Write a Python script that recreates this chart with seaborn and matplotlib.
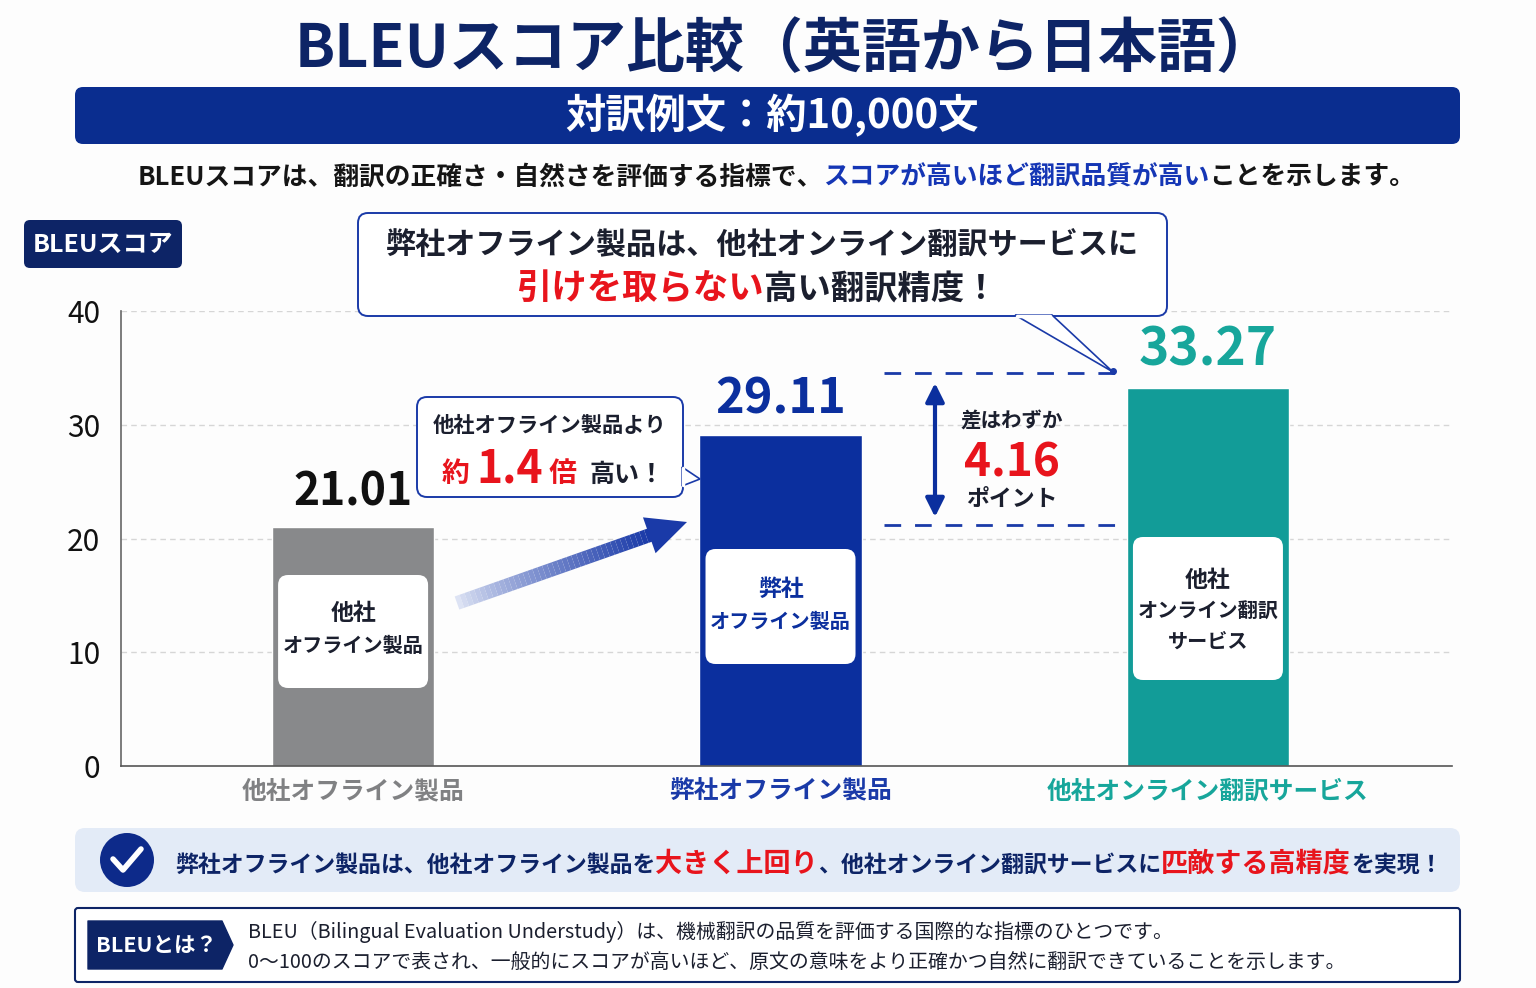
import numpy as np
import matplotlib
matplotlib.use("Agg")
import matplotlib.pyplot as plt
from matplotlib.patches import FancyBboxPatch, Circle, Polygon
from matplotlib.collections import LineCollection
import seaborn as sns

# ==========================================================
# DATA
# ==========================================================
categories = ["他社オフライン製品", "弊社オフライン製品", "他社オンライン翻訳サービス"]
scores = [21.01, 29.11, 33.27]
bar_colors = ["#88898b", "#0b2f9e", "#129c98"]
tick_colors = ["#808183", "#1a3aa8", "#17a69b"]
value_colors = ["#111111", "#0b2f9e", "#17a69b"]
inner_labels = [["他社", "オフライン製品"],
                ["弊社", "オフライン製品"],
                ["他社", "オンライン翻訳", "サービス"]]
yticks = [0, 10, 20, 30, 40]

W, H = 1536, 988
NAVY = "#0d2466"
BLUE = "#1a3aa8"
RED = "#e8141c"
DARK = "#1b1f2e"

# ==========================================================
# FIGURE
# ==========================================================
sns.set_style("white")
plt.rcParams['font.family'] = ['Noto Sans CJK JP', 'DejaVu Sans']

fig = plt.figure(figsize=(W / 100, H / 100), dpi=100)
fig.patch.set_facecolor("#fdfdfd")

ax = fig.add_axes([121 / W, 1 - 766 / H, (1452 - 121) / W, (766 - 311) / H])
ax.set_facecolor("none")

sns.barplot(x=categories, y=scores, hue=categories, palette=bar_colors,
            width=0.38, saturation=1, legend=False, ax=ax, zorder=2)

ax.set_xlim(-0.543, 2.571)
ax.set_ylim(0, 40)
ax.set_yticks(yticks)
ax.set_yticklabels([str(t) for t in yticks], fontsize=21.5, color="#111111")
ax.set_xlabel("")
ax.set_ylabel("")
ax.tick_params(axis="both", length=0)
ax.tick_params(axis="y", pad=15)
ax.tick_params(axis="x", pad=10)
for lab, c in zip(ax.get_xticklabels(), tick_colors):
    lab.set_color(c)
    lab.set_fontsize(17.8)
    lab.set_fontweight("bold")

for t in yticks[1:]:
    ax.axhline(t, color="#d6d6d6", lw=1, ls=(0, (4, 3)), zorder=0)

sns.despine(ax=ax)
ax.spines["left"].set_color("#666666")
ax.spines["bottom"].set_color("#555555")
ax.spines["left"].set_linewidth(1.2)
ax.spines["bottom"].set_linewidth(1.2)

# value labels above bars
val_sizes = [32, 35, 37]
for i, v in enumerate(scores):
    ax.annotate(f"{v:.2f}", (i, v), xytext=(0, 8), textcoords="offset points",
                ha="center", va="bottom", fontsize=val_sizes[i],
                fontweight="bold", color=value_colors[i], zorder=5)

# ==========================================================
# OVERLAY (pixel coordinates, y downwards)
# ==========================================================
ov = fig.add_axes([0, 0, 1, 1], zorder=5)
ov.set_xlim(0, W)
ov.set_ylim(H, 0)
ov.axis("off")
ov.patch.set_visible(False)

renderer = fig.canvas.get_renderer()


def rbox(x0, y0, x1, y1, r, fc, ec="none", lw=0, z=1):
    p = FancyBboxPatch((x0, y0), x1 - x0, y1 - y0,
                       boxstyle=f"round,pad=0,rounding_size={r}",
                       fc=fc, ec=ec, lw=lw, zorder=z)
    ov.add_patch(p)
    return p


def rich(x, y, parts, ha="center", z=6):
    items = []
    total = 0
    for s, color, size in parts:
        t = ov.text(0, y, s, color=color, fontsize=size, fontweight="bold",
                    va="baseline", ha="left", zorder=z)
        w = t.get_window_extent(renderer=renderer).width
        items.append((t, w))
        total += w
    start = x - total / 2 if ha == "center" else x
    for t, w in items:
        t.set_x(start)
        start += w


# title
ov.text(785, 50, "BLEUスコア比較（英語から日本語）", fontsize=42.5, fontweight="bold",
        color=NAVY, ha="center", va="center")

# banner
rbox(75, 87, 1460, 144, 8, "#0a2d8f")
ov.text(772, 116, "対訳例文：約10,000文", fontsize=29, fontweight="bold",
        color="white", ha="center", va="center", zorder=3)

# subtitle
rich(776, 185, [("BLEUスコアは、翻訳の正確さ・自然さを評価する指標で、", "#151515", 18.5),
                ("スコアが高いほど翻訳品質が高い", "#1536b5", 18.5),
                ("ことを示します。", "#151515", 18.5)])

# y axis label tag
rbox(24, 220, 182, 268, 6, NAVY)
ov.text(103, 245, "BLEUスコア", fontsize=18, fontweight="bold", color="white",
        ha="center", va="center", zorder=3)

# top callout
rbox(358, 213, 1167, 316, 10, "white", ec="#1a3aa8", lw=1.4, z=3)
ov.add_patch(Polygon([(1015, 315), (1113, 372), (1052, 315)], closed=True,
                     fc="white", ec="#1a3aa8", lw=1.2, zorder=3))
ov.plot([1017, 1050], [316, 316], color="white", lw=2.5, zorder=3.5)
ov.plot([1113], [371], marker="o", ms=4, color="#1a3aa8", zorder=4)
rich(762, 255, [("弊社オフライン製品は、他社オンライン翻訳サービスに", DARK, 21.7)])
rich(757, 299, [("引けを取らない", RED, 25.5), ("高い翻訳精度！", DARK, 24)])

# small callout
rbox(417, 397, 683, 497, 10, "white", ec="#1a3aa8", lw=1.4, z=3)
ov.add_patch(Polygon([(682, 467), (700, 479), (682, 486)], closed=True,
                     fc="white", ec="#1a3aa8", lw=1.2, zorder=3))
ov.plot([683, 683], [468, 485], color="white", lw=2.5, zorder=3.5)
rich(550, 432, [("他社オフライン製品より", DARK, 15.3)])
ratio = scores[1] / scores[0]
rich(553, 482, [("約 ", RED, 20), (f"{ratio:.1f}", RED, 32), (" 倍  ", RED, 20),
                ("高い！", DARK, 18)])

# gradient arrow
start = np.array([457.0, 603.0])
tip = np.array([687.0, 522.0])
u = (tip - start) / np.linalg.norm(tip - start)
n = np.array([-u[1], u[0]])
base = tip - 40 * u
steps = 40
pts = np.linspace(start, base + 2 * u, steps + 1)
segs = [[pts[k], pts[k + 1]] for k in range(steps)]
cmap = matplotlib.colors.LinearSegmentedColormap.from_list("g", ["#dde3f4", "#1a3aa8"])
ov.add_collection(LineCollection(segs, colors=cmap(np.linspace(0, 1, steps) ** 0.8),
                                 linewidths=10, capstyle="butt", zorder=2))
ov.add_patch(Polygon([tip, base + 19 * n, base - 19 * n], closed=True,
                     fc="#1a3aa8", ec="none", zorder=2))

# difference bracket
ov.plot([884, 1115], [373, 373], color="#1a3aa8", lw=2, ls=(0, (6, 5)), zorder=2)
ov.plot([884, 1115], [525, 525], color="#1a3aa8", lw=2, ls=(0, (6, 5)), zorder=2)
ov.annotate("", xy=(935, 383), xytext=(935, 517),
            arrowprops=dict(arrowstyle="<|-|>", color="#0b2f9e", lw=3,
                            mutation_scale=28, shrinkA=0, shrinkB=0), zorder=3)
rich(1012, 428, [("差はわずか", DARK, 14.8)])
rich(1012, 476, [(f"{scores[2] - scores[1]:.2f}", RED, 33)])
rich(1012, 506, [("ポイント", DARK, 16.5)])

# white labels inside bars
box_y = [(575, 688), (549, 664), (537, 680)]
line_y = [[613, 645], [589, 621], [580, 611, 641]]
for i, lines in enumerate(inner_labels):
    cx = ax.transData.transform((i, 0))[0]
    y0, y1 = box_y[i]
    rbox(cx - 75, y0, cx + 75, y1, 10, "white", z=3)
    for j, s in enumerate(lines):
        col = "#0b2f9e" if i == 1 else DARK
        ov.text(cx, line_y[i][j], s, fontsize=16.5 if j == 0 else 14.5,
                fontweight="bold", color=col, ha="center", va="center", zorder=4)

# bottom conclusion banner
rbox(75, 828, 1460, 892, 10, "#e3ebf7")
ov.add_patch(Circle((127, 860), 27, fc="#0d2a8a", ec="none", zorder=3))
ov.plot([113, 123, 141], [859, 870, 849], color="white", lw=4,
        solid_capstyle="round", solid_joinstyle="round", zorder=4)
rich(175, 872, [("弊社オフライン製品は、他社オフライン製品を", NAVY, 16.5),
                ("大きく上回り", RED, 19.5),
                ("、他社オンライン翻訳サービスに", NAVY, 16.5),
                ("匹敵する高精度", RED, 19.5),
                ("を実現！", NAVY, 16.5)], ha="left")

# bottom definition box
rbox(75, 908, 1460, 982, 3, "white", ec=NAVY, lw=1.5)
ov.add_patch(Polygon([(88, 921), (222, 921), (233, 945), (222, 969), (88, 969)],
                     closed=True, fc=NAVY, ec=NAVY, lw=1, joinstyle="round", zorder=3))
ov.text(156, 945, "BLEUとは？", fontsize=15.5, fontweight="bold", color="white",
        ha="center", va="center", zorder=4)
ov.text(248, 932, "BLEU（Bilingual Evaluation Understudy）は、機械翻訳の品質を評価する国際的な指標のひとつです。",
        fontsize=14.3, color=DARK, ha="left", va="center", zorder=4)
ov.text(248, 962, "0〜100のスコアで表され、一般的にスコアが高いほど、原文の意味をより正確かつ自然に翻訳できていることを示します。",
        fontsize=14.3, color=DARK, ha="left", va="center", zorder=4)

fig.savefig("out.png", dpi=100, facecolor=fig.get_facecolor())
